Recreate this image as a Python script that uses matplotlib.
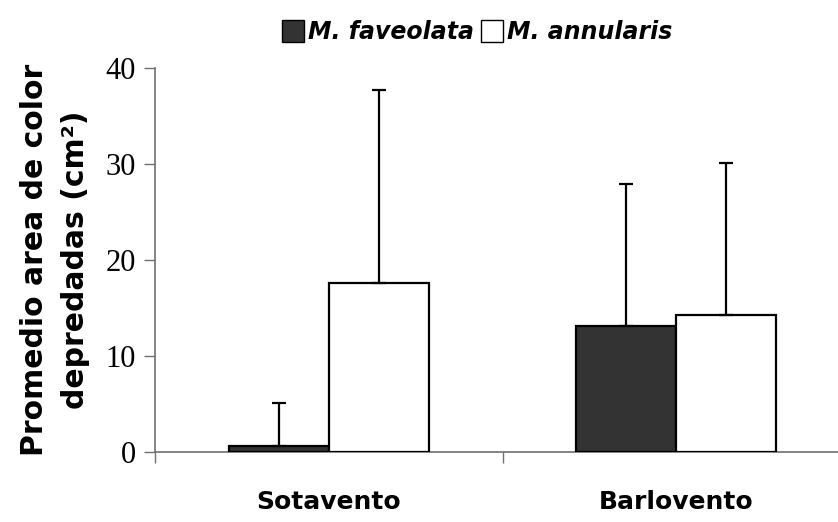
import matplotlib
matplotlib.use("Agg")
import matplotlib.pyplot as plt
from matplotlib.lines import Line2D
import numpy as np

# Data
sites = ["Sotavento", "Barlovento"]
species = ["M. faveolata", "M. annularis"]
faveolata_mean = [0.6, 13.1]
faveolata_err = [4.5, 14.8]
annularis_mean = [17.6, 14.3]
annularis_err = [20.1, 15.8]
y_ticks = [0, 10, 20, 30, 40]

W, H = 838, 522
fig = plt.figure(figsize=(W / 100, H / 100), dpi=100)
# axes spans from x=155px to beyond the right edge (category width 347px)
ax = fig.add_axes([155 / W, (H - 452) / H, 695 / W, 384 / H])

x = np.arange(len(sites))
bw = 0.288
ekw = dict(ecolor="black", elinewidth=1.6, capsize=5, capthick=1.6)

ax.bar(x - bw / 2, faveolata_mean, bw, color="#333333", edgecolor="black",
       linewidth=1.6, zorder=3)
ax.bar(x + bw / 2, annularis_mean, bw, color="white", edgecolor="black",
       linewidth=1.6, zorder=3)
ax.errorbar(x - bw / 2, faveolata_mean, yerr=[np.zeros(2), faveolata_err],
            fmt="none", zorder=4, **ekw)
ax.errorbar(x + bw / 2, annularis_mean, yerr=[np.zeros(2), annularis_err],
            fmt="none", zorder=4, **ekw)

ax.set_xlim(-0.5, 1.5)
ax.set_ylim(0, 40)
ax.set_yticks(y_ticks)
ax.set_yticklabels([str(t) for t in y_ticks], family="Liberation Serif",
                   fontsize=22)
ax.set_xticks([-0.5, 0.5, 1.5])
ax.set_xticklabels([])
ax.tick_params(axis="both", direction="out", length=8, width=1,
               color="#707070")
ax.tick_params(axis="y", pad=6)

for s in ["top", "right"]:
    ax.spines[s].set_visible(False)
for s in ["left", "bottom"]:
    ax.spines[s].set_color("#707070")
    ax.spines[s].set_linewidth(1.2)

# category labels
for xi, name in zip(x, sites):
    ax.text(xi, -5.2, name, ha="center", va="center", fontsize=18,
            fontweight="bold", family="DejaVu Sans", transform=ax.transData,
            clip_on=False)

fig.text(55 / W, 1 - 260 / H, "Promedio area de color\ndepredadas (cm²)",
         rotation=90, ha="center", va="center", fontsize=21.5,
         fontweight="bold", family="DejaVu Sans", linespacing=1.5,
         multialignment="center")

handles = [
    Line2D([], [], linestyle="none", marker="s", markersize=16,
           markerfacecolor="#333333", markeredgecolor="black",
           markeredgewidth=1),
    Line2D([], [], linestyle="none", marker="s", markersize=16,
           markerfacecolor="white", markeredgecolor="black",
           markeredgewidth=1),
]
fig.legend(handles, species, loc="center", bbox_to_anchor=(478 / W, 1 - 32 / H),
           ncol=2, frameon=False, handlelength=0.8, handletextpad=0.2,
           columnspacing=0.4,
           prop=dict(family="DejaVu Sans", weight="bold", style="italic",
                     size=17))

fig.savefig("out.png", dpi=100)
